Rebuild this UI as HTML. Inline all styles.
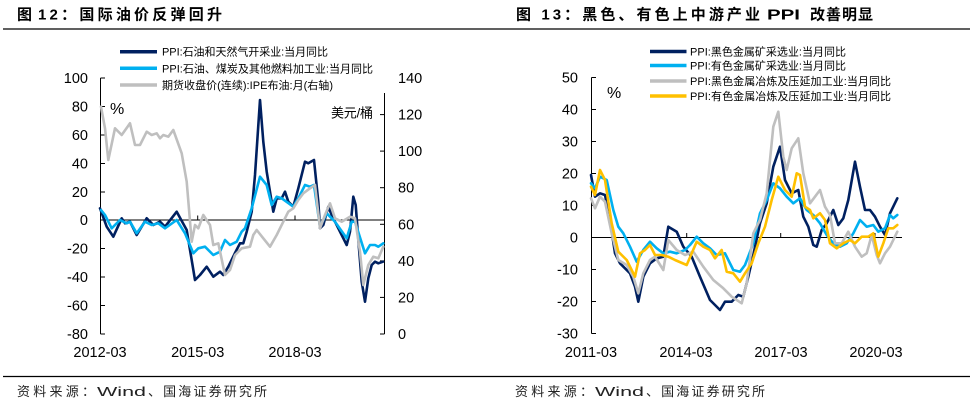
<!DOCTYPE html>
<html><head><meta charset="utf-8"><style>
html,body{margin:0;padding:0;background:#fff;}
svg{display:block;}
text{font-family:"Liberation Sans","Noto Sans CJK SC",sans-serif;fill:#000;}
.t{font-weight:bold;font-size:15px;}
.s{font-size:13px;fill:#222;}
.lg{font-size:11px;}
.ax{font-size:14.5px;}
</style></head><body>
<svg width="976" height="405" viewBox="0 0 976 405" xmlns="http://www.w3.org/2000/svg">
<rect width="976" height="405" fill="#fff"/>
<!-- titles -->
<text class="t" x="17" y="19.5">图</text>
<text class="t" x="38" y="19.5" textLength="184" lengthAdjust="spacing">12：国际油价反弹回升</text>
<text class="t" x="516" y="19.5" textLength="244" lengthAdjust="spacing">图 13：黑色、有色上中游产业</text>
<text class="t" x="767" y="19.5" textLength="33" lengthAdjust="spacingAndGlyphs">PPI</text>
<text class="t" x="810" y="19.5" textLength="63" lengthAdjust="spacing">改善明显</text>
<line x1="3" y1="29" x2="970" y2="29" stroke="#000" stroke-width="1.2"/>
<line x1="3" y1="376.5" x2="970" y2="376.5" stroke="#000" stroke-width="1.2"/>
<text class="s" x="17" y="396" textLength="78" lengthAdjust="spacing">资料来源：</text>
<text class="s" x="97" y="396" textLength="49" lengthAdjust="spacingAndGlyphs">Wind</text>
<text class="s" x="148" y="396" textLength="119" lengthAdjust="spacing">、国海证券研究所</text>
<text class="s" x="515" y="396" textLength="78" lengthAdjust="spacing">资料来源：</text>
<text class="s" x="595" y="396" textLength="49" lengthAdjust="spacingAndGlyphs">Wind</text>
<text class="s" x="646" y="396" textLength="119" lengthAdjust="spacing">、国海证券研究所</text>

<!-- LEFT CHART -->
<g stroke="#000" stroke-width="1" fill="none">
<line x1="100.5" y1="78" x2="100.5" y2="334"/>
<line x1="100.5" y1="78" x2="105" y2="78"/>
<line x1="100.5" y1="106.5" x2="105" y2="106.5"/>
<line x1="100.5" y1="135" x2="105" y2="135"/>
<line x1="100.5" y1="163.5" x2="105" y2="163.5"/>
<line x1="100.5" y1="192" x2="105" y2="192"/>
<line x1="100.5" y1="248.5" x2="105" y2="248.5"/>
<line x1="100.5" y1="277" x2="105" y2="277"/>
<line x1="100.5" y1="305.5" x2="105" y2="305.5"/>
<line x1="100.5" y1="334" x2="105" y2="334"/>
<line x1="384.5" y1="93" x2="384.5" y2="334"/>
<line x1="380" y1="114.6" x2="384.5" y2="114.6"/>
<line x1="380" y1="151.1" x2="384.5" y2="151.1"/>
<line x1="380" y1="187.7" x2="384.5" y2="187.7"/>
<line x1="380" y1="224.3" x2="384.5" y2="224.3"/>
<line x1="380" y1="260.9" x2="384.5" y2="260.9"/>
<line x1="380" y1="297.4" x2="384.5" y2="297.4"/>
<line x1="380" y1="334" x2="384.5" y2="334"/>
<line x1="100" y1="220" x2="384.5" y2="220"/>
<line x1="197.7" y1="215.5" x2="197.7" y2="220"/>
<line x1="295" y1="215.5" x2="295" y2="220"/>
</g>
<g class="ax" text-anchor="end">
<text x="88" y="83">100</text><text x="88" y="111.5">80</text><text x="88" y="140">60</text>
<text x="88" y="168.5">40</text><text x="88" y="197">20</text><text x="88" y="225">0</text>
<text x="88" y="253.5">-20</text><text x="88" y="282">-40</text><text x="88" y="310.5">-60</text><text x="88" y="339">-80</text>
</g>
<g class="ax">
<text x="398" y="83">140</text><text x="398" y="119.6">120</text><text x="398" y="156.1">100</text>
<text x="398" y="192.7">80</text><text x="398" y="229.3">60</text><text x="398" y="265.9">40</text>
<text x="398" y="302.4">20</text><text x="398" y="339">0</text>
</g>
<g class="ax" text-anchor="middle">
<text x="100" y="357">2012-03</text><text x="197.7" y="357">2015-03</text><text x="295" y="357">2018-03</text>
</g>
<text x="110" y="114" style="font-size:16px">%</text>
<text x="331" y="117.5" style="font-size:13px" textLength="42" lengthAdjust="spacing">美元/桶</text>
<!-- legend left -->
<line x1="120" y1="51.7" x2="157" y2="51.7" stroke="#002060" stroke-width="3.5"/>
<line x1="120" y1="68.3" x2="157" y2="68.3" stroke="#00b0f0" stroke-width="3.5"/>
<line x1="120" y1="85" x2="157" y2="85" stroke="#bfbfbf" stroke-width="3.5"/>
<text class="lg" x="162" y="55.7" textLength="166" lengthAdjust="spacing">PPI:石油和天然气开采业:当月同比</text>
<text class="lg" x="162" y="72.3" textLength="211" lengthAdjust="spacing">PPI:石油、煤炭及其他燃料加工业:当月同比</text>
<text class="lg" x="162" y="89" textLength="171" lengthAdjust="spacing">期货收盘价(连续):IPE布油:月(右轴)</text>
<g fill="none" stroke-width="2.6" stroke-linejoin="round" stroke-linecap="round">
<polyline stroke="#002060" points="100,208.3 106.7,226.7 113.3,236.7 121.7,218.3 125,223.3 130,221.7 136.7,235 146.7,218.3 153.3,225 160,221.7 165,226.7 176.7,211.7 186.7,230 195,280 200,275 206.7,266.7 213.3,276.7 220,271.7 223.3,275 228.3,266.7 235,253 240,243.3 243.3,243.3 246.7,231.7 251.7,211.7 255,175 260,100 263.3,141.7 266.7,171.7 273.3,211.7 276.7,198.3 281.7,198.3 285,191.7 288.3,201.7 293.3,206.7 298.3,188.3 305,161.7 308.3,163.3 314,160 318.3,201.7 320,228.3 323.3,225 328.3,206.7 331.7,215 335,221.7 340,231.7 346.7,245 350,231.7 353.3,196.7 355.7,205 359,248.3 361.7,281.7 365,301.7 368.3,278.3 371.7,265 375,261.7 378.3,263.3 383,261.7"/>
<polyline stroke="#00b0f0" points="101,210 105,215 111.7,228.3 120,220 126.7,223.3 130,221.7 136.7,233.3 145,221.7 151.7,225 158.3,223.3 165,228.3 176.7,220 185,233.3 193.3,253.3 198.3,248.3 205,246.7 213.3,255 220,251.7 225,240 230,245 236.7,241.7 241.7,231.7 245,228.3 251.7,208.3 260,176.7 266.7,185 271.7,205 276.7,196.7 281.7,198.3 293.3,206.7 298.3,198.3 305,185 310,186.7 314,185 320,226.7 326.7,213.3 335,221.7 346.7,238.3 351.7,221.7 355,221.7 365,253.3 370,245 375,245 378.3,246.7 383.3,243.3"/>
<polyline stroke="#bfbfbf" points="101,106.7 105,128.3 108.3,160 115,128.3 121.7,135 130,123.3 135,145 140,145 146.7,131.7 151.7,135 156.7,133.3 160,138.3 163.3,135 168.3,136.7 173.3,130 181.7,153.3 186.7,181.7 191.7,241.7 195,225 198.3,228.3 203.3,215 210,225 213.3,245 218.3,243.3 225,275 230,270 235,255 241.7,248.3 250,246.7 253.3,235 256.7,230 263.3,238.3 270,246.7 276.7,235 283.3,221.7 288.3,211.7 293.3,208.3 298.3,200 303.3,193.3 310,188.3 315,185 320,228.3 325,215 330,203.3 335,218.3 341.7,221.7 350,216.7 355,218.3 360,251.7 363.3,285 368.3,265 373.3,256.7 378.3,258.3 383.3,246.7"/>
</g>

<!-- RIGHT CHART -->
<g stroke="#000" stroke-width="1" fill="none">
<line x1="591.5" y1="77.5" x2="591.5" y2="333.5"/>
<line x1="591.5" y1="77.5" x2="596" y2="77.5"/>
<line x1="591.5" y1="109.5" x2="596" y2="109.5"/>
<line x1="591.5" y1="141.5" x2="596" y2="141.5"/>
<line x1="591.5" y1="173.5" x2="596" y2="173.5"/>
<line x1="591.5" y1="205.5" x2="596" y2="205.5"/>
<line x1="591.5" y1="269.5" x2="596" y2="269.5"/>
<line x1="591.5" y1="301.5" x2="596" y2="301.5"/>
<line x1="591.5" y1="333.5" x2="596" y2="333.5"/>
<line x1="591" y1="237.5" x2="902" y2="237.5"/>
<line x1="686.7" y1="233" x2="686.7" y2="237.5"/>
<line x1="780.7" y1="233" x2="780.7" y2="237.5"/>
<line x1="875" y1="233" x2="875" y2="237.5"/>
</g>
<g class="ax" text-anchor="end">
<text x="578" y="82.5">50</text><text x="578" y="114.5">40</text><text x="578" y="146.5">30</text>
<text x="578" y="178.5">20</text><text x="578" y="210.5">10</text><text x="578" y="242.5">0</text>
<text x="578" y="274.5">-10</text><text x="578" y="306.5">-20</text><text x="578" y="338.5">-30</text>
</g>
<g class="ax" text-anchor="middle">
<text x="591" y="357">2011-03</text><text x="686" y="357">2014-03</text><text x="781" y="357">2017-03</text><text x="876" y="357">2020-03</text>
</g>
<text x="607" y="98" style="font-size:16px">%</text>
<!-- legend right -->
<line x1="650" y1="51.5" x2="686.5" y2="51.5" stroke="#002060" stroke-width="3.5"/>
<line x1="650" y1="65.5" x2="686.5" y2="65.5" stroke="#00b0f0" stroke-width="3.5"/>
<line x1="650" y1="81" x2="686.5" y2="81" stroke="#bfbfbf" stroke-width="3.5"/>
<line x1="650" y1="96" x2="686.5" y2="96" stroke="#ffc000" stroke-width="3.5"/>
<text class="lg" x="690" y="55.5" textLength="156" lengthAdjust="spacing">PPI:黑色金属矿采选业:当月同比</text>
<text class="lg" x="690" y="69.5" textLength="156" lengthAdjust="spacing">PPI:有色金属矿采选业:当月同比</text>
<text class="lg" x="690" y="85" textLength="201" lengthAdjust="spacing">PPI:黑色金属冶炼及压延加工业:当月同比</text>
<text class="lg" x="690" y="100" textLength="201" lengthAdjust="spacing">PPI:有色金属冶炼及压延加工业:当月同比</text>
<g fill="none" stroke-width="2.6" stroke-linejoin="round" stroke-linecap="round">
<polyline stroke="#002060" points="591,175 595,196.7 600,193.3 605,195 610,220 615,253.3 620,263.3 630,273.3 635,286.7 638.3,301.7 643.3,276.7 650,263.3 656.7,258.3 663.3,256.7 668.3,226.7 676.7,231.7 683.3,246.7 691.7,256.7 700,276.7 710,300 720,310 725,301.7 731.7,301.7 738.3,295 743.3,296.7 748.3,276.7 753.3,255 760,223.3 766.7,203.3 773.3,166.7 780,146.7 785,180 791.7,193.3 798.3,190 803.3,216.7 808.3,226.7 813.3,245 816.7,246.7 821.7,230 826.7,223.3 833.3,210 838.3,225 843.3,218.3 848.3,200 855,161.7 860,186.7 865,210 870,210 875,216.7 880,226.7 885,235 890,213.3 897.3,198.3"/>
<polyline stroke="#00b0f0" points="591,183.3 595,188.3 600,176.7 606.7,180 613.3,210 618.3,226.7 623.3,233.3 630,246.7 636.7,261.7 643.3,250 650,241.7 656.7,248.3 663.3,253.3 670,251.7 676.7,253.3 685,250 690,245 696.7,236.7 703.3,243.3 710,248.3 716.7,255 725,253.3 733.3,270 740,271.7 745,265 753.3,243.3 760,213.3 766.7,200 773.3,183.3 780,188.3 786.7,196.7 793.3,203.3 800,198.3 806.7,210 813.3,215 820,223.3 826.7,235 833.3,243.3 840,246.7 846.7,243.3 853.3,233.3 860,220 866.7,226.7 873.3,225 878.3,231.7 885,228.3 890,215 893.3,218.3 897.3,215"/>
<polyline stroke="#bfbfbf" points="591,198.3 595,208.3 600,196.7 605,201.7 611.7,233.3 618.3,260 626.7,265 633.3,276.7 638.3,293.3 643.3,273.3 650,260 655,256.7 663.3,270 668.3,240 676.7,250 685,255 693.3,251.7 703.3,266.7 713.3,280 723.3,288.3 731.7,296.7 741.7,303.3 746.7,283.3 753.3,233.3 760,220 766.7,193.3 773.3,126.7 778.3,111.7 783.3,156.7 786.7,170 791.7,148.3 798.3,138.3 803.3,173.3 810,203.3 815,196.7 820,190 825,206.7 830,215 835,243.3 841.7,243.3 848.3,231.7 855,246.7 861.7,256.7 866.7,253.3 871.7,235 876.7,255 880,263.3 885,253.3 890,246.7 897.3,231.7"/>
<polyline stroke="#ffc000" points="591,186.7 595,195 600,170 605,180 611.7,223.3 618.3,251.7 626.7,260 635,276.7 640,253.3 645,250 650,245 655,255 661.7,255 668.3,256.7 675,260 686.7,265 696.7,241.7 703.3,246.7 710,250 715,258.3 721.7,250 726.7,271.7 733.3,273.3 740,281.7 745,273.3 751.7,263.3 758.3,243.3 765,226.7 771.7,200 778.3,176.7 785,190 791.7,196.7 796.7,173.3 800,175 805,206.7 810,210 813.3,218.3 820,213.3 825,220 830,243.3 836.7,248.3 843.3,243.3 850,240 855,243.3 861.7,236.7 868.3,236.7 873.3,233.3 878.3,256.7 883.3,243.3 888.3,228.3 893.3,228.3 897.3,225"/>
</g>
</svg>
</body></html>
